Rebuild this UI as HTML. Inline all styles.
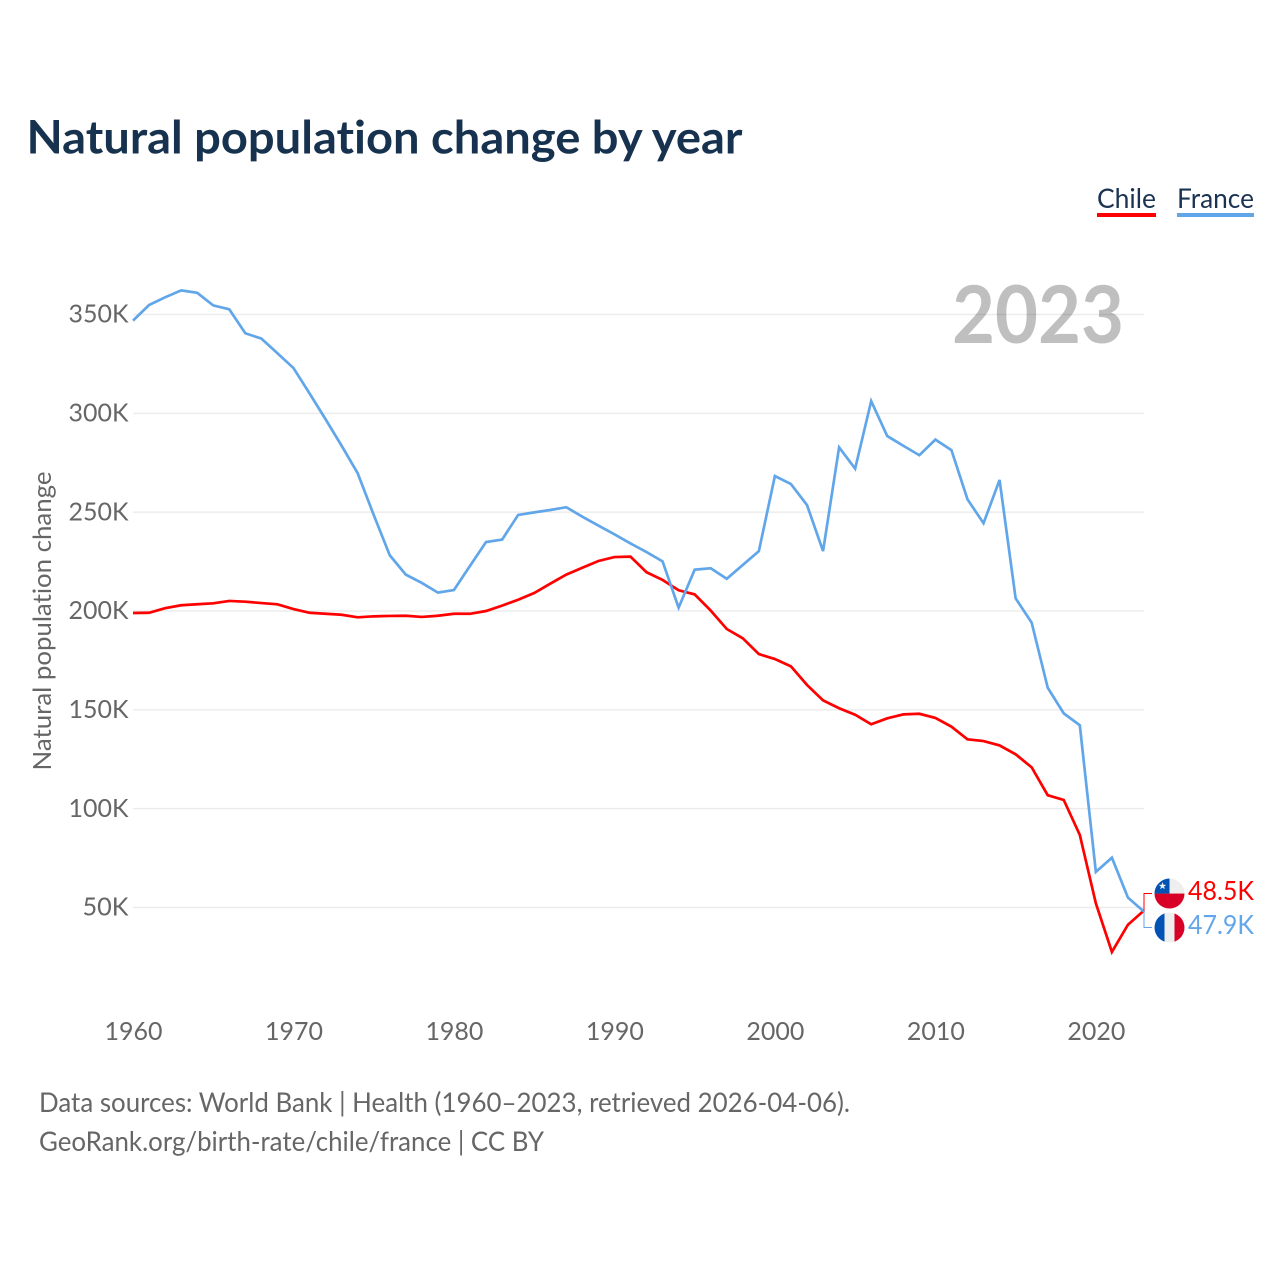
<!DOCTYPE html>
<html lang="en">
<head>
<meta charset="utf-8">
<title>Natural population change by year</title>
<style>
html,body{margin:0;padding:0;background:#fff;}
svg{display:block;font-family:"Lato","Carlito","Liberation Sans",sans-serif;font-variant-ligatures:none;}
</style>
</head>
<body>
<svg id="chart" width="1280" height="1280" viewBox="0 0 1280 1280" xmlns="http://www.w3.org/2000/svg">
  <text x="26.5" y="153.3" font-size="46" font-weight="700" fill="#17324f" textLength="716" lengthAdjust="spacingAndGlyphs">Natural population change by year</text>

  <text x="1097" y="208" font-size="27" fill="#1a3353" textLength="59" lengthAdjust="spacingAndGlyphs">Chile</text>
  <rect x="1097" y="213" width="59" height="4" fill="#ff0000"/>
  <text x="1177" y="208" font-size="27" fill="#1a3353" textLength="77" lengthAdjust="spacingAndGlyphs">France</text>
  <rect x="1177" y="213" width="77" height="4" fill="#62a6ea"/>

  <text x="952" y="343" font-size="80" font-weight="700" fill="#bfbfbf" textLength="172" lengthAdjust="spacingAndGlyphs">2023</text>
  <g id="grid"></g>
  <g id="yticks"></g>
  <g id="xticks"></g>
  <text transform="translate(51 621) rotate(-90)" text-anchor="middle" font-size="25" fill="#666666" textLength="299" lengthAdjust="spacingAndGlyphs">Natural population change</text>

  <g id="series"></g>
  <g id="endlabels"></g>

  <defs>
    <clipPath id="clip-chile"><circle id="clip-chile-c" r="15" cx="1169.5" cy="893.5"/></clipPath>
    <clipPath id="clip-france"><circle id="clip-france-c" r="15" cx="1169.5" cy="927.5"/></clipPath>
  </defs>

  <text x="39" y="1112" font-size="27" fill="#666666" textLength="811" lengthAdjust="spacingAndGlyphs">Data sources: World Bank | Health (1960–2023, retrieved 2026-04-06).</text>
  <text x="39" y="1151" font-size="27" fill="#666666" textLength="505" lengthAdjust="spacingAndGlyphs">GeoRank.org/birth-rate/chile/france | CC BY</text>
</svg>
<script>
const startYear = 1960;
const xTickYears = [1960, 1970, 1980, 1990, 2000, 2010, 2020];
const yTickValues = [50, 100, 150, 200, 250, 300, 350];
const chileValues = [199, 199.1, 201.4, 202.9, 203.4, 203.9, 205.1, 204.7, 204, 203.4,
  201, 199.1, 198.6, 198.1, 196.8, 197.3, 197.5, 197.6, 197, 197.6,
  198.6, 198.6, 200, 202.7, 205.7, 209.1, 213.8, 218.4, 221.9, 225.3,
  227.3, 227.5, 219.6, 215.7, 210.5, 208.4, 200.2, 190.9, 186.2, 178.2,
  175.7, 172, 162.6, 154.8, 150.8, 147.5, 142.7, 145.7, 147.7, 148,
  145.9, 141.5, 135.1, 134.2, 132, 127.5, 120.9, 106.8, 104.4, 86.7,
  52.1, 27.5, 41.3, 48.5];
const franceValues = [346.9, 354.8, 358.7, 362.2, 361, 354.6, 352.6, 340.5, 337.8, 330.4,
  322.9, 310.1, 297, 283.6, 269.7, 248.6, 228.2, 218.4, 214.2, 209.3,
  210.6, 222.8, 234.9, 236.1, 248.6, 249.9, 251.1, 252.5, 247.7, 243.2,
  238.8, 234.2, 229.8, 225.1, 201.7, 220.9, 221.6, 216.3, 223.3, 230.3,
  268.3, 264.2, 253.6, 230.3, 282.8, 272, 306.2, 288.5, 283.6, 278.8,
  286.7, 281.4, 256.5, 244.4, 266.3, 206.4, 194.1, 161.2, 148.2, 142.2,
  68, 75.2, 55, 47.9];

const NS = 'http://www.w3.org/2000/svg';
const xScale = function (year) { return 133 + (year - 1960) * (1144 - 133) / 63; };
const yScale = function (v) { return 907.5 - (v - 50) * 593 / 300; };
const make = function (tag, attrs, parent) {
  const el = document.createElementNS(NS, tag);
  for (const k in attrs) el.setAttribute(k, attrs[k]);
  parent.appendChild(el);
  return el;
};
const byId = function (id) { return document.getElementById(id); };
const COL_CHILE = '#ff0000';
const COL_FRANCE = '#62a6ea';

yTickValues.forEach(function (v) {
  const line = make('line', { x1: 133, x2: 1144, y1: yScale(v), y2: yScale(v), stroke: 'rgba(0,0,0,0.075)', 'stroke-width': 1.5 }, byId('grid'));
  
  
  const label = make('text', { x: 128.5, y: yScale(v) + 8.2, 'text-anchor': 'end', 'font-size': 25, fill: '#666666', textLength: 60, lengthAdjust: 'spacingAndGlyphs' }, byId('yticks'));
  
  
  label.textContent = v + 'K';
  if (v < 100) { label.setAttribute('textLength', 46); }
});

xTickYears.forEach(function (yr) {
  const label = make('text', { x: xScale(yr) + 0.5, y: 1040, 'text-anchor': 'middle', 'font-size': 25, fill: '#666666', textLength: 58, lengthAdjust: 'spacingAndGlyphs' }, byId('xticks'));
  
  
  label.textContent = yr;
});

const pathFor = function (values) {
  return values.map(function (v, i) {
    return (i ? 'L' : 'M') + xScale(startYear + i).toFixed(2) + ' ' + yScale(v).toFixed(2);
  }).join(' ');
};

const chileLine = make('path', { d: pathFor(chileValues), fill: 'none', stroke: COL_CHILE, 'stroke-width': 2.7, 'stroke-linejoin': 'miter' }, byId('series'));


const franceLine = make('path', { d: pathFor(franceValues), fill: 'none', stroke: COL_FRANCE, 'stroke-width': 2.7, 'stroke-linejoin': 'miter' }, byId('series'));



const lastChile = chileValues[chileValues.length - 1];
const lastFrance = franceValues[franceValues.length - 1];
const endX = xScale(startYear + chileValues.length - 1);
const mid = (yScale(lastChile) + yScale(lastFrance)) / 2;
const chileY = mid - 17.5;
const franceY = mid + 16.5;
const flagX = 1169.5;
const end = byId('endlabels');

const chileBracket = make('path', { d: 'M' + endX + ' ' + yScale(lastChile) + ' V' + chileY + ' H1152', fill: 'none', stroke: COL_CHILE, 'stroke-width': 1 }, end);


const franceBracket = make('path', { d: 'M' + endX + ' ' + yScale(lastFrance) + ' V' + franceY + ' H1152', fill: 'none', stroke: COL_FRANCE, 'stroke-width': 1 }, end);



byId('clip-chile-c').setAttribute('cy', chileY);
byId('clip-france-c').setAttribute('cy', franceY);

const chileFlag = make('g', { 'clip-path': 'url(#clip-chile)' }, end);


make('rect', { x: flagX - 15, y: chileY - 15, width: 30, height: 15, fill: '#eeeeee' }, chileFlag);
make('rect', { x: flagX - 15, y: chileY, width: 30, height: 15, fill: '#d80027' }, chileFlag);
make('rect', { x: flagX - 15, y: chileY - 15, width: 15, height: 15, fill: '#0052b4' }, chileFlag);
const cx = flagX - 7, cy = chileY - 7.5;
let star = '';
for (let i = 0; i < 10; i++) {
  const r = i % 2 ? 1.6 : 4;
  const a = -Math.PI / 2 + i * Math.PI / 5;
  star += (i ? 'L' : 'M') + (cx + r * Math.cos(a)).toFixed(2) + ' ' + (cy + r * Math.sin(a)).toFixed(2);
}
make('path', { d: star + 'Z', fill: '#eeeeee' }, chileFlag);

const franceFlag = make('g', { 'clip-path': 'url(#clip-france)' }, end);


make('rect', { x: flagX - 15, y: franceY - 15, width: 10, height: 30, fill: '#0052b4' }, franceFlag);
make('rect', { x: flagX - 5, y: franceY - 15, width: 10, height: 30, fill: '#eeeeee' }, franceFlag);
make('rect', { x: flagX + 5, y: franceY - 15, width: 10, height: 30, fill: '#d80027' }, franceFlag);

const chileValue = make('text', { x: 1188, y: chileY + 6.5, 'font-size': 26, fill: COL_CHILE, textLength: 66, lengthAdjust: 'spacingAndGlyphs' }, end);


chileValue.textContent = lastChile.toFixed(1) + 'K';
const franceValue = make('text', { x: 1188, y: franceY + 6.5, 'font-size': 26, fill: COL_FRANCE, textLength: 66, lengthAdjust: 'spacingAndGlyphs' }, end);


franceValue.textContent = lastFrance.toFixed(1) + 'K';
</script>
</body>
</html>
